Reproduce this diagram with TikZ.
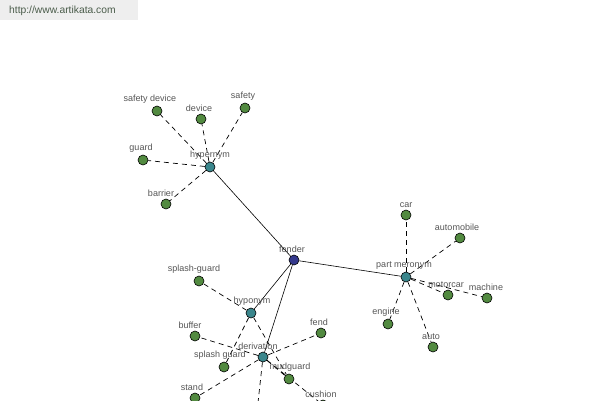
\documentclass[tikz,border=0pt]{standalone}
\usepackage{fontspec}
\setmainfont{Liberation Sans}
\usetikzlibrary{backgrounds}
\definecolor{artcolor0001}{RGB}{238,238,238}
\definecolor{artcolor0002}{RGB}{74,92,74}
\definecolor{artcolor0003}{RGB}{82,138,64}
\definecolor{artcolor0004}{RGB}{58,134,140}
\definecolor{artcolor0005}{RGB}{52,56,140}
\definecolor{artcolor0006}{RGB}{85,85,85}
\begin{document}
\begin{tikzpicture}[yscale=-1
,pstyle0/.style={circle,draw=black,line width=0.6pt,inner sep=0pt,minimum size=10pt,fill=artcolor0003}
,pstyle1/.style={pstyle0,fill=artcolor0004}
,pstyle2/.style={pstyle0,fill=artcolor0005}
,pstyle3/.style={color=black,line width=0.6pt}
,pstyle4/.style={color=black,line width=0.7pt,dash pattern=on 5pt off 4pt}
,pstyle5/.style={text=artcolor0006,font=\fontsize{9pt}{10pt}\selectfont,inner sep=0pt,label distance=2pt,xshift=-2pt}
]
\useasboundingbox (0pt,0pt) rectangle (600pt,400pt);
\clip (0pt,0pt) rectangle (600pt,400pt);
\fill[artcolor0001] (0pt,0pt) rectangle (138pt,20pt);
\node (site) at (9pt,11pt)[anchor=west,inner sep=0,text=artcolor0002,font=\fontsize{10.3pt}{12pt}\selectfont]{http://www.artikata.com};
% centre and relation nodes
\node (fender) at (294pt,260pt)[pstyle2,label={[pstyle5]above:fender}]{};
\node (hypernym) at (210pt,167pt)[pstyle1,label={[pstyle5,xshift=2pt]above:hypernym}]{};
\node (partmer) at (406pt,277pt)[pstyle1,label={[pstyle5]above:part meronym}]{};
\node (hyponym) at (251pt,313pt)[pstyle1,label={[pstyle5,xshift=3pt]above:hyponym}]{};
\node (derivation) at (263pt,357pt)[pstyle1,label={[pstyle5,xshift=-3pt]above:derivation}]{};
% words
\node (safetydev) at (157pt,111pt)[pstyle0,label={[pstyle5,xshift=-5pt]above:safety device}]{};
\node (device) at (201pt,119pt)[pstyle0,label={[pstyle5]above:device}]{};
\node (safety) at (245pt,108pt)[pstyle0,label={[pstyle5]above:safety}]{};
\node (guard) at (143pt,160pt)[pstyle0,label={[pstyle5]above:guard}]{};
\node (barrier) at (166pt,204pt)[pstyle0,label={[pstyle5,xshift=-3pt]above:barrier}]{};
\node (car) at (406pt,215pt)[pstyle0,label={[pstyle5,xshift=2pt]above:car}]{};
\node (automobile) at (460pt,238pt)[pstyle0,label={[pstyle5,xshift=-1pt]above:automobile}]{};
\node (motorcar) at (448pt,295pt)[pstyle0,label={[pstyle5]above:motorcar}]{};
\node (machine) at (487pt,298pt)[pstyle0,label={[pstyle5,xshift=1pt]above:machine}]{};
\node (engine) at (388pt,324pt)[pstyle0,label={[pstyle5]above:engine}]{};
\node (auto) at (433pt,347pt)[pstyle0,label={[pstyle5]above:auto}]{};
\node (splashg1) at (199pt,281pt)[pstyle0,label={[pstyle5,xshift=-3pt]above:splash-guard}]{};
\node (buffer) at (195pt,336pt)[pstyle0,label={[pstyle5,xshift=-3pt]above:buffer}]{};
\node (splashg2) at (224pt,367pt)[pstyle0,label={[pstyle5,xshift=-2pt]above:splash guard}]{};
\node (fend) at (321pt,333pt)[pstyle0,label={[pstyle5]above:fend}]{};
\node (mudguard) at (289pt,379pt)[pstyle0,label={[pstyle5,xshift=3pt]above:mudguard}]{};
\node (stand) at (195pt,398pt)[pstyle0,label={[pstyle5,xshift=-1pt]above:stand}]{};
\node (cushion) at (323pt,405pt)[pstyle0,label={[pstyle5]above:cushion}]{};
\coordinate (derivbelow) at (255pt,430pt);
\begin{pgfonlayer}{background}
\draw[pstyle3] (fender) -- (hypernym);
\draw[pstyle3] (fender) -- (partmer);
\draw[pstyle3] (fender) -- (hyponym);
\draw[pstyle3] (fender) -- (derivation);
\foreach \w in {safetydev,device,safety,guard,barrier}
  \draw[pstyle4] (hypernym) -- (\w);
\foreach \w in {car,automobile,motorcar,machine,engine,auto}
  \draw[pstyle4] (partmer) -- (\w);
\foreach \w in {splashg1,splashg2,mudguard}
  \draw[pstyle4] (hyponym) -- (\w);
\foreach \w in {buffer,fend,stand,mudguard,cushion,derivbelow}
  \draw[pstyle4] (derivation) -- (\w);
\end{pgfonlayer}
\end{tikzpicture}
\end{document}
